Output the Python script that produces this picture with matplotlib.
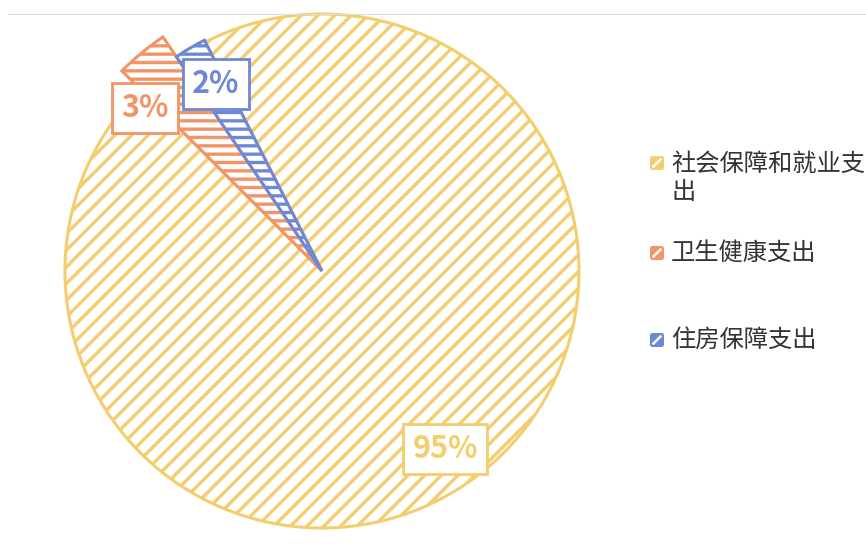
import matplotlib.pyplot as plt
from matplotlib.patches import FancyBboxPatch
import numpy as np

plt.rcParams['font.family'] = ['Noto Sans CJK SC', 'DejaVu Sans']
plt.rcParams['hatch.linewidth'] = 2.4

names = ['社会保障和就业支\n出', '卫生健康支出', '住房保障支出']
values = [95, 3, 2]
labels = ['95%', '3%', '2%']
colors = ['#f3cd6e', '#f29466', '#6e88d6']
radii = [257, 283, 259]

fig = plt.figure(figsize=(8.66, 5.45), dpi=100)
ax = fig.add_axes([0, 0, 1, 1])

cx, cy = 322, 545 - 271
wedges, _ = ax.pie(values, center=(cx, cy), radius=257, startangle=117,
                   counterclock=False,
                   wedgeprops=dict(facecolor='white', linewidth=2.2))
for w, c, r in zip(wedges, colors, radii):
    w.set_edgecolor(c)
    w.set_radius(r)
    w.set_hatch('//' if c == colors[0] else '--')

ax.set_xlim(0, 866)
ax.set_ylim(0, 545)
ax.set_aspect('equal')
ax.axis('off')

# value labels
label_pos = [(445, 545 - 449), (145, 545 - 108), (216, 545 - 84)]
for (x, y), t, c in zip(label_pos, labels, colors):
    ax.text(x, y, t, color=c, fontsize=22, fontweight='bold',
            ha='center', va='center',
            bbox=dict(boxstyle='square,pad=0.3', facecolor='white',
                      edgecolor=c, linewidth=2))

# legend
leg_y = [163, 253, 340]
for n, c, y in zip(names, colors, leg_y):
    yy = 545 - y
    ax.add_patch(FancyBboxPatch((650, yy - 7), 14, 14,
                                boxstyle='round,pad=0,rounding_size=2.5',
                                facecolor=c, edgecolor='none'))
    ax.plot([653.5, 660.5], [yy - 3.5, yy + 3.5], color='white', lw=1.8)
    ax.text(671, yy + (12 if '\n' in n else 0), n, fontsize=17.5,
            color='#333333', ha='left',
            va='top' if '\n' in n else 'center',
            linespacing=1.1)

# faint frame line at top
ax.plot([8, 866], [545 - 14, 545 - 14], color='#dddddd', lw=0.8)

fig.savefig('out.png', dpi=100)
